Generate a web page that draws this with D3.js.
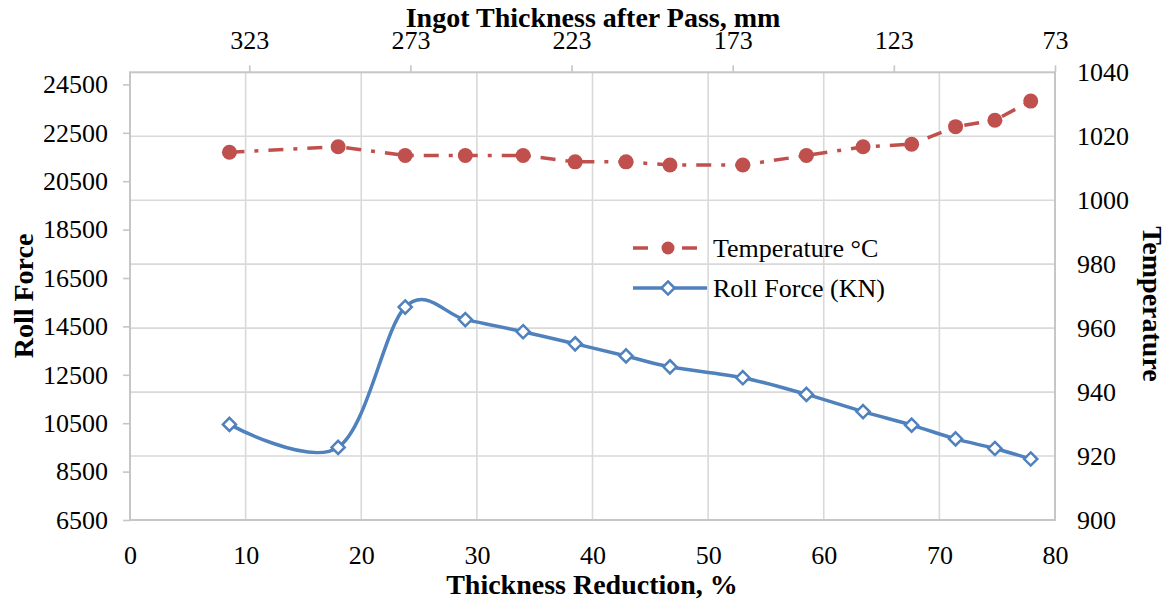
<!DOCTYPE html>
<html><head><meta charset="utf-8">
<script src="https://cdn.jsdelivr.net/npm/d3@7"></script>
<style>
body{margin:0;background:#fff;}
svg text{font-family:"Liberation Serif","Times New Roman",serif !important;fill:#000;}
</style></head>
<body>
<svg id="c" width="1173" height="601"></svg>
<script>
// ---- data ----
const reduction = [8.6, 18.0, 23.8, 29.0, 34.0, 38.5, 42.9, 46.7, 53.0, 58.5, 63.4, 67.6, 71.4, 74.8, 77.9];
const rollForce = [10450, 9500, 15300, 14780, 14280, 13780, 13280, 12830, 12380, 11690, 10980, 10420, 9850, 9455, 9020];
const temperature = [1015, 1016.7, 1014, 1014, 1014, 1012, 1012, 1011, 1011, 1014, 1016.7, 1017.5, 1023, 1025, 1031];
const bottomTicks = [0, 10, 20, 30, 40, 50, 60, 70, 80];
const topTicks = [323, 273, 223, 173, 123, 73];
const leftTicks = [6500, 8500, 10500, 12500, 14500, 16500, 18500, 20500, 22500, 24500];
const rightTicks = [900, 920, 940, 960, 980, 1000, 1020, 1040];
const seriesNames = ["Temperature °C", "Roll Force (KN)"];

const L = 130, R = 1055, T = 72.3, B = 520;
const svg = d3.select("#c");
const x = d3.scaleLinear().domain([0, 80]).range([L, R]);
const xTop = d3.scaleLinear().domain([360, 73]).range([L, R]);
const yL = d3.scaleLinear().domain([6500, 25000]).range([B, T]);
const yR = d3.scaleLinear().domain([900, 1040]).range([B, T]);
const fmt = d3.format("d");

const grid = "#d9d9d9", border = "#c6c6c6";
svg.append("g").selectAll("line").data(rightTicks.slice(1, -1)).join("line")
  .attr("x1", L).attr("x2", R).attr("y1", d => yR(d)).attr("y2", d => yR(d))
  .attr("stroke", grid).attr("stroke-width", 1.6);
svg.append("g").selectAll("line").data(bottomTicks.slice(1, -1)).join("line")
  .attr("y1", T).attr("y2", B).attr("x1", d => x(d)).attr("x2", d => x(d))
  .attr("stroke", grid).attr("stroke-width", 1.6);
svg.append("rect").attr("x", L).attr("y", T).attr("width", R - L).attr("height", B - T)
  .attr("fill", "none").attr("stroke", border).attr("stroke-width", 2);

function styleAxis(g) {
  g.attr("font-family", null).attr("font-size", null);
  g.select(".domain").remove();
  g.selectAll(".tick line").attr("stroke", border).attr("stroke-width", 1.6);
  g.selectAll(".tick text").style("font-size", "26px").style("font-family", "'Liberation Serif', serif").attr("fill", "#000");
}
svg.append("g").attr("transform", `translate(0,${B})`)
  .call(d3.axisBottom(x).tickValues(bottomTicks).tickFormat(fmt).tickSize(0).tickPadding(26)).call(styleAxis);
svg.append("g").attr("transform", `translate(0,${T})`)
  .call(d3.axisTop(xTop).tickValues(topTicks).tickFormat(fmt).tickSize(7).tickPadding(16)).call(styleAxis);
svg.append("g").attr("transform", `translate(${L},0)`)
  .call(d3.axisLeft(yL).tickValues(leftTicks).tickFormat(fmt).tickSize(7).tickPadding(15)).call(styleAxis);
svg.append("g").attr("transform", `translate(${R},0)`)
  .call(d3.axisRight(yR).tickValues(rightTicks).tickFormat(fmt).tickSize(0).tickPadding(22)).call(styleAxis);

function title(txt, tx, ty, rot) {
  svg.append("text").text(txt).attr("transform", `translate(${tx},${ty}) rotate(${rot})`)
    .style("font-size", "28px").style("font-weight", "bold").attr("text-anchor", "middle");
}
title("Thickness Reduction, %", 592, 594, 0);
title("Ingot Thickness after Pass, mm", 593, 27, 0);
title("Roll Force", 33, 296, -90);
title("Temperature", 1143, 304, 90);

const red = "#c0504d", blue = "#4f81bd";
const pts = reduction.map((r, i) => ({r, f: rollForce[i], t: temperature[i]}));

svg.append("path").datum(pts)
  .attr("d", d3.line().x(d => x(d.r)).y(d => yL(d.f)).curve(d3.curveCardinal.tension(0)))
  .attr("fill", "none").attr("stroke", blue).attr("stroke-width", 3.5);
const diamond = d3.symbol().type(d3.symbolDiamond2).size(110);
svg.append("g").selectAll("path").data(pts).join("path")
  .attr("d", diamond).attr("transform", d => `translate(${x(d.r)},${yL(d.f)})`)
  .attr("fill", "#fff").attr("stroke", blue).attr("stroke-width", 2.5);

svg.append("path").datum(pts)
  .attr("d", d3.line().x(d => x(d.r)).y(d => yR(d.t)))
  .attr("fill", "none").attr("stroke", red).attr("stroke-width", 3.5)
  .attr("stroke-dasharray", "15,10,4,10");
svg.append("g").selectAll("circle").data(pts).join("circle")
  .attr("cx", d => x(d.r)).attr("cy", d => yR(d.t)).attr("r", 7.5).attr("fill", red);

const lg = svg.append("g");
lg.append("line").attr("x1", 633).attr("x2", 700).attr("y1", 248).attr("y2", 248)
  .attr("stroke", red).attr("stroke-width", 3.5).attr("stroke-dasharray", "15,20,4,10");
lg.append("circle").attr("cx", 668).attr("cy", 248).attr("r", 6.5).attr("fill", red);
lg.append("line").attr("x1", 633).attr("x2", 707).attr("y1", 288).attr("y2", 288)
  .attr("stroke", blue).attr("stroke-width", 3.5);
lg.append("path").attr("d", diamond).attr("transform", "translate(668,288)")
  .attr("fill", "#fff").attr("stroke", blue).attr("stroke-width", 2.5);
lg.selectAll("text").data(seriesNames).join("text")
  .attr("x", 713).attr("y", (d, i) => 248 + i * 40).attr("dy", "0.35em")
  .style("font-size", "26px").text(d => d);
</script>
</body></html>
